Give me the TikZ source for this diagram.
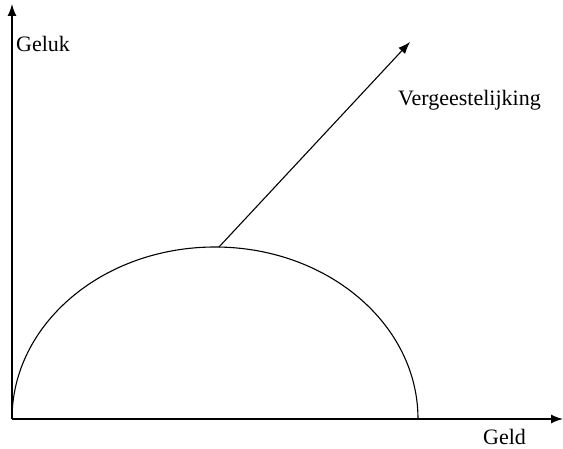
\documentclass[tikz,border=0pt]{standalone}
\usepackage{fontspec}
\setmainfont{Liberation Serif}
\usetikzlibrary{arrows.meta}
\begin{document}
\begin{tikzpicture}[x=1pt,y=-1pt,
  axis/.style={line width=1.3pt,-{Latex[length=12pt,width=9pt]}},
  curve/.style={line width=1.1pt},
  lbl/.style={font=\fontsize{22}{26}\selectfont,inner sep=0pt,anchor=base west}]
\useasboundingbox (0,0) rectangle (563,449);
\coordinate (o) at (12,419);
\coordinate (ytop) at (12,4);
\coordinate (xend) at (563,419);
\coordinate (peak) at (219,247);
\coordinate (tip) at (410,42);
\draw[axis] (o) -- (ytop);
\draw[axis] (o) -- (xend);
\draw[curve] (o) arc[start angle=180,end angle=0,x radius=203,y radius=-172];
\draw[curve,-{Latex[length=12pt,width=9pt]}] (peak) -- (tip);
\node[lbl] (geluk) at (16,52) {Geluk};
\node[lbl] (verg) at (398,106) {Vergeestelijking};
\node[lbl] (geld) at (483,444) {Geld};
\end{tikzpicture}
\end{document}
